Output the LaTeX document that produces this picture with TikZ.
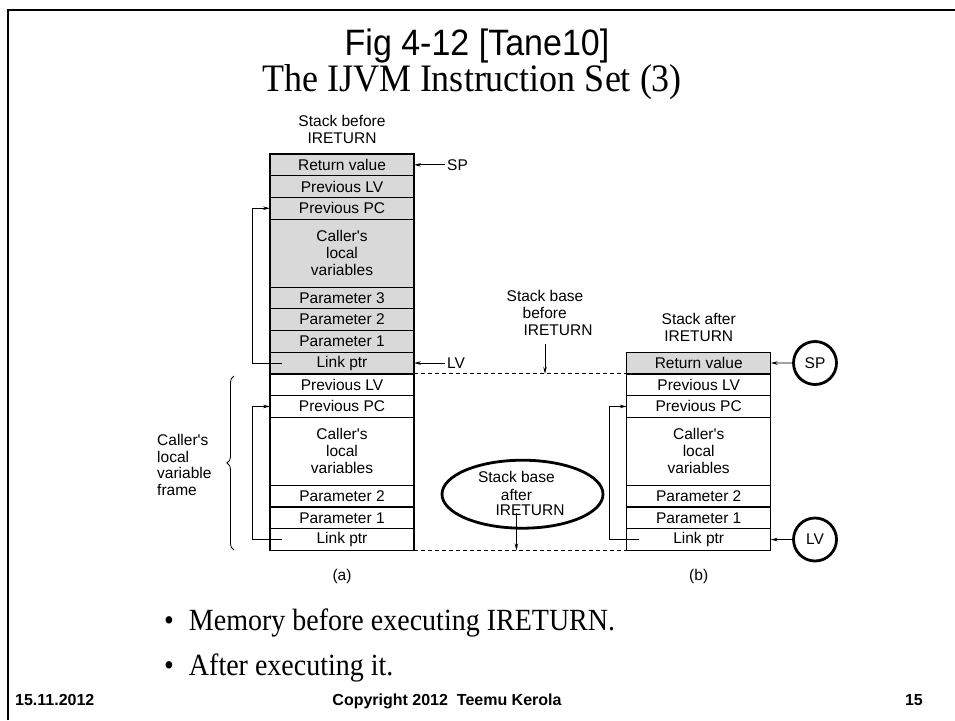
\documentclass[tikz,border=0pt]{standalone}
\usepackage{fontspec}
\setmainfont{Liberation Serif}
\newfontfamily\arialf{Liberation Sans}
\usetikzlibrary{shapes.geometric,decorations.pathreplacing,arrows.meta,calc}
\definecolor{cellgray}{RGB}{217,217,217}
\newcommand{\diagf}{\arialf\fontsize{15.5}{17}\selectfont}
\begin{document}
\begin{tikzpicture}[x=1pt,y=-1pt,
  cell/.style={draw, line width=1.2pt, minimum width=144pt, minimum height=21.7pt, inner sep=0pt, outer sep=0pt, font=\diagf, align=center},
  gcell/.style={cell, fill=cellgray},
  tall/.style={minimum height=68pt},
  arr/.style={line width=0.9pt, -{Stealth[length=7pt,width=3.5pt]}},
  lbl/.style={font=\diagf, align=center, inner sep=0pt},
  ring/.style={circle, draw, line width=2.8pt, minimum size=43pt, inner sep=0pt, font=\diagf},
  dash line/.style={dashed, dash pattern=on 4pt off 3pt, line width=0.9pt},
  foot/.style={font=\arialf\bfseries\fontsize{16}{19}\selectfont, inner sep=0pt}
  ]
\useasboundingbox (0,0) rectangle (955,720);
\fill[white] (0,0) rectangle (955,720);
% frame
\draw[line width=2.6pt] (8,720) -- (8,10) -- (955,10);

% titles
\node[font=\arialf\fontsize{34}{38}\selectfont, inner sep=0pt] (t1) at (477,46) {\scalebox{1}[1.08]{Fig 4-12 [Tane10]}};
\node[font=\fontsize{36}{40}\selectfont, inner sep=0pt] (t2) at (472,82) {\scalebox{1}[1.08]{The IJVM Instruction Set (3)}};

% left stack (a)
\node[lbl] (hdA) at (342,129) {Stack before\\IRETURN};
\node[gcell] (rv) at (342,164.85) {Return value};
\node[gcell] (plv) at (342,186.55) {Previous LV};
\node[gcell] (ppc) at (342,208.25) {Previous PC};
\node[gcell, tall] (loc) at (342,253.1) {Caller's\\local\\variables};
\node[gcell] (p3) at (342,297.95) {Parameter 3};
\node[gcell] (p2) at (342,319.65) {Parameter 2};
\node[gcell] (p1) at (342,341.35) {Parameter 1};
\node[gcell] (lp) at (342,363.05) {Link ptr};
\node[cell] (plvB) at (342,384.75) {Previous LV};
\node[cell] (ppcB) at (342,406.45) {Previous PC};
\node[cell, tall] (locB) at (342,451.3) {Caller's\\local\\variables};
\node[cell] (p2B) at (342,496.15) {Parameter 2};
\node[cell] (p1B) at (342,517.85) {Parameter 1};
\node[cell] (lpB) at (342,539.55) {Link ptr};
\node[lbl] (capA) at (342,576) {(a)};

% SP / LV pointers (a)
\node[lbl, anchor=west] (spA) at (447,164.85) {SP};
\node[lbl, anchor=west] (lvA) at (447,363.05) {LV};
\draw[arr] ([xshift=-2pt]spA.west) -- (rv.east);
\draw[arr] ([xshift=-2pt]lvA.west) -- (lp.east);

% link arrows (a)
\draw[arr] ([xshift=12pt]lp.west) -- ++(-30,0) |- (ppc.west);
\draw[arr] ([xshift=12pt]lpB.west) -- ++(-30,0) |- (ppcB.west);

% brace
\draw[decorate, decoration={brace, amplitude=7pt}, line width=0.8pt] (234,550) -- (234,376);
\node[lbl, anchor=west, align=left, font=\arialf\fontsize{15.5}{16.6}\selectfont] (frm) at (157,465) {Caller's\\local\\variable\\frame};

% right stack (b)
\node[lbl] (hdB) at (698.7,327) {Stack after\\IRETURN};
\node[gcell] (rvR) at (698.7,363.05) {Return value};
\node[cell] (plvR) at (698.7,384.75) {Previous LV};
\node[cell] (ppcR) at (698.7,406.45) {Previous PC};
\node[cell, tall] (locR) at (698.7,451.3) {Caller's\\local\\variables};
\node[cell] (p2R) at (698.7,496.15) {Parameter 2};
\node[cell] (p1R) at (698.7,517.85) {Parameter 1};
\node[cell] (lpR) at (698.7,539.55) {Link ptr};
\node[lbl] (capB) at (698.7,576) {(b)};

\node[ring] (spc) at (815,363) {SP};
\node[ring] (lvc) at (815,539.5) {LV};
\draw[arr] (spc.west) -- (rvR.east);
\draw[arr] (lvc.west) -- (lpR.east);
\draw[arr] ([xshift=12.6pt]lpR.west) -- ++(-30,0) |- (ppcR.west);

% dashed stack base lines
\draw[dash line] (lp.south east) -- (rvR.south west);
\draw[dash line] (lpB.south east) -- (lpR.south west);

% stack base before
\node[lbl] (sbb1) at (545,296) {Stack base};
\node[lbl] (sbb2) at (544.7,313) {before};
\node[lbl] (sbb3) at (558,330) {IRETURN};
\draw[arr] (sbb1.south |- sbb3.south) ++(0,8) -- (sbb1.south |- lp.south);

% stack base after (ellipse)
\node[ellipse, draw, line width=2.8pt, minimum width=161pt, minimum height=68pt, inner sep=0pt] (ell) at (522.5,494.2) {};
\node[lbl] (sba1) at (516.4,477) {Stack base};
\node[lbl] (sba2) at (516.4,494.5) {after};
\node[lbl] (sba3) at (530,510.7) {IRETURN};
\draw[arr] (sba1.south |- sba3.south) ++(0,-3) -- (sba1.south |- lpB.south);

% bullets
\node[anchor=west, font=\fontsize{28}{32}\selectfont, inner sep=0pt] (b1) at (164,623) {\scalebox{1}[1.1]{\textbullet\hspace{15pt}Memory before executing IRETURN.}};
\node[anchor=west, font=\fontsize{28}{32}\selectfont, inner sep=0pt] (b2) at (164,668) {\scalebox{1}[1.1]{\textbullet\hspace{15pt}After executing it.}};

% footer
\node[foot, anchor=base west] (f1) at (15,705) {15.11.2012};
\node[foot, anchor=base] (f2) at (447,705) {Copyright 2012\ \ Teemu Kerola};
\node[foot, anchor=base east] (f3) at (923,705) {15};
\end{tikzpicture}
\end{document}
